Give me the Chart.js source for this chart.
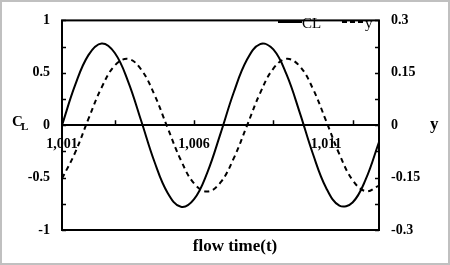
<!DOCTYPE html>
<html>
<head>
<meta charset="utf-8">
<script src="https://cdn.jsdelivr.net/npm/chart.js@4"></script>
<style>
  html, body { margin: 0; padding: 0; background: #fff; }
  canvas { display: block; }
</style>
</head>
<body>
<canvas id="chart" width="450" height="265"></canvas>
<script>
// flow time (x), one point every half step
const flowTime = [1001, 1001.5, 1002, 1002.5, 1003, 1003.5, 1004, 1004.5, 1005, 1005.5,
  1006, 1006.5, 1007, 1007.5, 1008, 1008.5, 1009, 1009.5, 1010, 1010.5,
  1011, 1011.5, 1012, 1012.5, 1013];
// lift coefficient CL (left axis)
const clValues = [0, 0.384, 0.669, 0.780, 0.689, 0.419, 0.040, -0.349, -0.647, -0.778,
  -0.706, -0.452, -0.080, 0.312, 0.624, 0.774, 0.723, 0.484, 0.120, -0.275,
  -0.599, -0.767, -0.737, -0.515, -0.160];
// displacement y (right axis)
const yValues = [-0.153, -0.078, 0.018, 0.108, 0.171, 0.190, 0.159, 0.087, -0.008, -0.100,
  -0.167, -0.190, -0.164, -0.095, -0.002, 0.092, 0.162, 0.190, 0.169, 0.104,
  0.012, -0.083, -0.157, -0.189, -0.173];
// tick labels
const xTickLabels = [1001, 1006, 1011];
const xTickMarks = [1003, 1006, 1009, 1012];
const leftTicks = [-1, -0.5, 0, 0.5, 1];
const leftMinorTicks = [-0.75, -0.25, 0.25, 0.75];
const rightTicks = [-0.3, -0.15, 0, 0.15, 0.3];
const rightMinorTicks = [-0.225, -0.075, 0.075, 0.225];

const serif = "'Liberation Serif', 'Times New Roman', serif";

//Frame, inward tick marks, axis titles and legend
const decorations = {
  id: 'decorations',
  afterDraw(chart) {
    const ctx = chart.ctx;
    const a = chart.chartArea;
    const x = chart.scales.x, yl = chart.scales.yL, yr = chart.scales.yR;
    ctx.save();
    //outer grey border of the picture
    ctx.strokeStyle = '#c0c0c0';
    ctx.lineWidth = 2;
    ctx.strokeRect(1, 1, chart.width - 2, chart.height - 2);
    //plot frame
    ctx.strokeStyle = '#000';
    ctx.lineWidth = 2;
    ctx.strokeRect(a.left, a.top, a.right - a.left, a.bottom - a.top);
    //inward ticks
    ctx.lineWidth = 1.5;
    ctx.beginPath();
    leftTicks.concat(leftMinorTicks).forEach(v => {
      const py = Math.round(yl.getPixelForValue(v)) + 0.5;
      ctx.moveTo(a.left, py); ctx.lineTo(a.left + 4, py);
    });
    rightTicks.concat(rightMinorTicks).forEach(v => {
      const py = Math.round(yr.getPixelForValue(v)) + 0.5;
      ctx.moveTo(a.right, py); ctx.lineTo(a.right - 4, py);
    });
    const y0 = yl.getPixelForValue(0);
    xTickMarks.forEach(v => {
      const px = Math.round(x.getPixelForValue(v)) + 0.5;
      ctx.moveTo(px, y0); ctx.lineTo(px, y0 - 5);
    });
    ctx.stroke();

    //axis titles
    ctx.fillStyle = '#000';
    ctx.textBaseline = 'alphabetic';
    ctx.textAlign = 'left';
    ctx.font = 'bold 15px ' + serif;
    ctx.fillText('C', 12, 126);
    ctx.font = 'bold 11px ' + serif;
    ctx.fillText('L', 21, 130);
    ctx.font = 'bold 17px ' + serif;
    ctx.fillText('y', 430, 129);
    ctx.textAlign = 'center';
    ctx.fillText('flow time(t)', 235, 251);

    //legend
    const ds = chart.data.datasets;
    ctx.font = '15px ' + serif;
    ctx.textAlign = 'left';
    ctx.textBaseline = 'alphabetic';
    ctx.lineWidth = 2;
    ctx.beginPath();
    ctx.moveTo(278, 22); ctx.lineTo(302, 22);
    ctx.stroke();
    ctx.fillText(ds[0].label, 302, 28);
    ctx.setLineDash([5, 3]);
    ctx.beginPath();
    ctx.moveTo(342, 22); ctx.lineTo(365, 22);
    ctx.stroke();
    ctx.setLineDash([]);
    ctx.fillText(ds[1].label, 365, 28);
    ctx.restore();
  }
};

const tickFont = { family: serif, size: 14, weight: 'bold' };

new Chart(document.getElementById('chart'), {
  type: 'line',
  plugins: [decorations],
  data: {
    datasets: [
      {
        label: 'CL',
        data: flowTime.map((t, i) => ({ x: t, y: clValues[i] })),
        yAxisID: 'yL',
        borderColor: '#000',
        borderWidth: 2,
        pointRadius: 0,
        tension: 0.4,
        fill: false,
      },
      {
        label: 'y',
        data: flowTime.map((t, i) => ({ x: t, y: yValues[i] })),
        yAxisID: 'yR',
        borderColor: '#000',
        borderWidth: 2,
        borderDash: [5, 4],
        pointRadius: 0,
        tension: 0.4,
        fill: false,
      },
    ],
  },
  options: {
    responsive: false,
    animation: false,
    layout: { padding: { top: 11, bottom: 35, left: 0, right: 0 } },
    plugins: {
      legend: { display: false },
      tooltip: { enabled: false },
    },
    scales: {
      x: {
        type: 'linear',
        min: 1001,
        max: 1013,
        position: { yL: 0 },
        afterBuildTicks: (s) => { s.ticks = xTickLabels.map(v => ({ value: v })); },
        grid: { display: false, drawTicks: false },
        border: { display: true, color: '#000', width: 2 },
        ticks: {
          color: '#000',
          font: tickFont,
          padding: 11,
          maxRotation: 0,
          callback: (v) => v.toLocaleString('en-US'),
        },
      },
      yL: {
        type: 'linear',
        position: 'left',
        min: -1,
        max: 1,
        afterBuildTicks: (s) => { s.ticks = leftTicks.map(v => ({ value: v })); },
        afterFit: (s) => { s.width = 62; },
        grid: { display: false, drawTicks: false },
        border: { display: false },
        ticks: { color: '#000', font: tickFont, padding: 12, callback: (v) => String(v) },
      },
      yR: {
        type: 'linear',
        position: 'right',
        min: -0.3,
        max: 0.3,
        afterBuildTicks: (s) => { s.ticks = rightTicks.map(v => ({ value: v })); },
        afterFit: (s) => { s.width = 71; },
        grid: { display: false, drawTicks: false },
        border: { display: false },
        ticks: { color: '#000', font: tickFont, padding: 12, callback: (v) => String(v) },
      },
    },
  },
});
</script>
</body>
</html>
